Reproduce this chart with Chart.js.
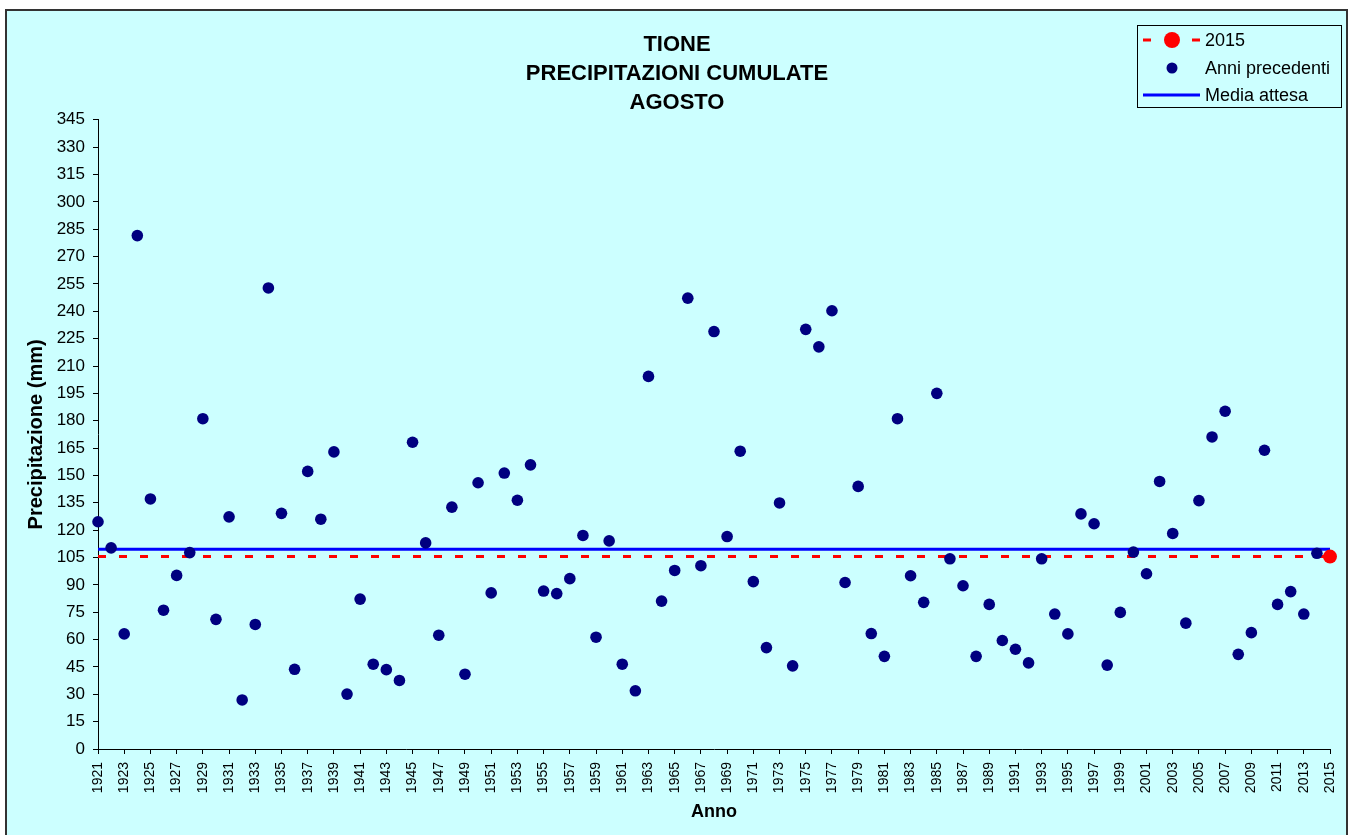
<!DOCTYPE html>
<html>
<head>
<meta charset="utf-8">
<script src="https://cdn.jsdelivr.net/npm/chart.js@4.4.1/dist/chart.umd.min.js"></script>
<style>
  html, body { margin: 0; padding: 0; background: #fff; }
  #wrap { width: 1358px; height: 835px; }
</style>
</head>
<body>
<div id="wrap"><canvas id="chart" width="1358" height="835"></canvas></div>
<script>
// years before 2015 and their August rainfall (mm)
const years = [
  1921, 1922, 1923, 1924, 1925, 1926, 1927, 1928, 1929, 1930,
  1931, 1932, 1933, 1934, 1935, 1936, 1937, 1938, 1939, 1940,
  1941, 1942, 1943, 1944, 1945, 1946, 1947, 1948, 1949, 1950,
  1951, 1952, 1953, 1954, 1955, 1956, 1957, 1958, 1959, 1960,
  1961, 1962, 1963, 1964, 1965, 1966, 1967, 1968, 1969, 1970,
  1971, 1972, 1973, 1974, 1975, 1976, 1977, 1978, 1979, 1980,
  1981, 1982, 1983, 1984, 1985, 1986, 1987, 1988, 1989, 1990,
  1991, 1992, 1993, 1994, 1995, 1996, 1997, 1998, 1999, 2000,
  2001, 2002, 2003, 2004, 2005, 2006, 2007, 2008, 2009, 2010,
  2011, 2012, 2013, 2014
];
const precip = [
  124.6, 110.3, 63.1, 281.5, 137.1, 76.1, 95.2, 107.7, 181.1, 71.1,
  127.3, 26.9, 68.3, 252.8, 129.2, 43.7, 152.2, 126.0, 162.9, 30.1,
  82.2, 46.5, 43.5, 37.6, 168.2, 113.0, 62.4, 132.6, 41.0, 146.0,
  85.6, 151.3, 136.4, 155.8, 86.6, 85.2, 93.4, 117.1, 61.3, 114.1,
  46.5, 31.9, 204.3, 81.1, 97.9, 247.2, 100.5, 228.9, 116.5, 163.3,
  91.8, 55.6, 134.9, 45.6, 230.1, 220.5, 240.3, 91.3, 144.0, 63.3,
  50.8, 181.1, 95.0, 80.4, 195.0, 104.3, 89.5, 50.8, 79.3, 59.5,
  54.7, 47.2, 104.3, 74.0, 63.1, 128.9, 123.5, 46.0, 74.9, 108.0,
  96.1, 146.7, 118.2, 69.0, 136.2, 171.1, 185.2, 51.9, 63.8, 163.8,
  79.3, 86.3, 74.0, 107.3
];
const yearNow = 2015;
const valueNow = 105.5;
const mediaAttesa = 109.5;

const tickYears = [
  1921, 1923, 1925, 1927, 1929, 1931, 1933, 1935, 1937, 1939,
  1941, 1943, 1945, 1947, 1949, 1951, 1953, 1955, 1957, 1959,
  1961, 1963, 1965, 1967, 1969, 1971, 1973, 1975, 1977, 1979,
  1981, 1983, 1985, 1987, 1989, 1991, 1993, 1995, 1997, 1999,
  2001, 2003, 2005, 2007, 2009, 2011, 2013, 2015
];
const titleLines = ['TIONE', 'PRECIPITAZIONI CUMULATE', 'AGOSTO'];
const legendLabels = ['2015', 'Anni precedenti', 'Media attesa'];

const FONT = 'Arial, "Liberation Sans", sans-serif';
Chart.defaults.font.family = FONT;
Chart.defaults.color = '#000';

const firstYear = years[0];

// cyan chart panel with its border
const frame = {
  id: 'frame',
  beforeDraw(chart) {
    const ctx = chart.ctx;
    ctx.save();
    ctx.fillStyle = '#fff';
    ctx.fillRect(0, 0, chart.width, chart.height);
    ctx.fillStyle = '#ccffff';
    ctx.fillRect(6, 10, 1341, 840);
    ctx.strokeStyle = '#333';
    ctx.lineWidth = 2;
    ctx.strokeRect(6, 10, 1341, 840);
    ctx.restore();
  }
};

// excel-like legend box top right
const legendBox = {
  id: 'legendBox',
  afterDraw(chart) {
    const ctx = chart.ctx;
    const x0 = 1137, y0 = 25, w = 204, h = 82;
    const sx = x0 + 6, ex = x0 + 63, cx = x0 + 35, tx = x0 + 68;
    const rows = [y0 + 15, y0 + 43, y0 + 70];
    ctx.save();
    ctx.strokeStyle = '#000';
    ctx.lineWidth = 1;
    ctx.strokeRect(x0 + 0.5, y0 + 0.5, w, h);

    ctx.strokeStyle = '#ff0000';
    ctx.lineWidth = 3;
    ctx.beginPath();
    ctx.moveTo(sx, rows[0]); ctx.lineTo(sx + 8, rows[0]);
    ctx.moveTo(ex - 8, rows[0]); ctx.lineTo(ex, rows[0]);
    ctx.stroke();
    ctx.fillStyle = '#ff0000';
    ctx.beginPath(); ctx.arc(cx, rows[0], 8, 0, Math.PI * 2); ctx.fill();

    ctx.fillStyle = '#000080';
    ctx.beginPath(); ctx.arc(cx, rows[1], 5.5, 0, Math.PI * 2); ctx.fill();

    ctx.strokeStyle = '#0000ff';
    ctx.beginPath(); ctx.moveTo(sx, rows[2]); ctx.lineTo(ex, rows[2]); ctx.stroke();

    ctx.font = '18px ' + FONT;
    ctx.fillStyle = '#000';
    ctx.textBaseline = 'middle';
    legendLabels.forEach((t, i) => ctx.fillText(t, tx, rows[i] + 1));
    ctx.restore();
  }
};

const axisGrid = { display: true, drawOnChartArea: false, drawTicks: true, tickLength: 5, color: '#000' };
const axisBorder = { display: true, color: '#000', width: 1 };

new Chart(document.getElementById('chart'), {
  type: 'scatter',
  data: {
    datasets: [
      {
        label: '2015',
        data: [{ x: yearNow, y: valueNow }],
        pointRadius: 7,
        pointBackgroundColor: '#ff0000',
        pointBorderWidth: 0,
        showLine: false,
        clip: false,
        order: 0
      },
      {
        label: 'Anni precedenti',
        data: years.map((y, i) => ({ x: y, y: precip[i] })),
        pointRadius: 5.8,
        pointBackgroundColor: '#000080',
        pointBorderWidth: 0,
        showLine: false,
        clip: false,
        order: 1
      },
      {
        label: '2015 linea',
        data: [{ x: firstYear, y: valueNow }, { x: yearNow, y: valueNow }],
        showLine: true,
        borderColor: '#ff0000',
        borderWidth: 3,
        borderDash: [8, 13],
        pointRadius: 0,
        clip: false,
        order: 2
      },
      {
        label: 'Media attesa',
        data: [{ x: firstYear, y: mediaAttesa }, { x: yearNow, y: mediaAttesa }],
        showLine: true,
        borderColor: '#0000ff',
        borderWidth: 3,
        pointRadius: 0,
        clip: false,
        order: 3
      }
    ]
  },
  options: {
    responsive: false,
    animation: false,
    events: [],
    layout: { padding: { left: 24, right: 28, top: 0, bottom: 0 } },
    plugins: {
      legend: { display: false },
      tooltip: { enabled: false },
      title: {
        display: true,
        text: titleLines,
        color: '#000',
        font: { size: 22, weight: 'bold', lineHeight: 1.3 },
        padding: { top: 31, bottom: 3 }
      }
    },
    scales: {
      x: {
        type: 'linear',
        min: firstYear,
        max: yearNow,
        afterBuildTicks: s => { s.ticks = tickYears.map(v => ({ value: v })); },
        afterFit: s => { s.height = 86; },
        grid: axisGrid,
        border: axisBorder,
        ticks: {
          autoSkip: false,
          maxRotation: 90,
          minRotation: 90,
          padding: 8,
          font: { size: 14 },
          callback: v => String(v)
        },
        title: {
          display: true,
          text: 'Anno',
          font: { size: 18, weight: 'bold' },
          padding: { top: 0, bottom: 12 }
        }
      },
      y: {
        min: 0,
        max: 345,
        afterFit: s => { s.width = 74; },
        grid: axisGrid,
        border: axisBorder,
        ticks: { stepSize: 15, autoSkip: false, padding: 8, font: { size: 17 } },
        title: {
          display: true,
          text: 'Precipitazione (mm)',
          font: { size: 20, weight: 'bold' },
          padding: { top: 0, bottom: 0 }
        }
      }
    }
  },
  plugins: [frame, legendBox]
});
</script>
</body>
</html>
